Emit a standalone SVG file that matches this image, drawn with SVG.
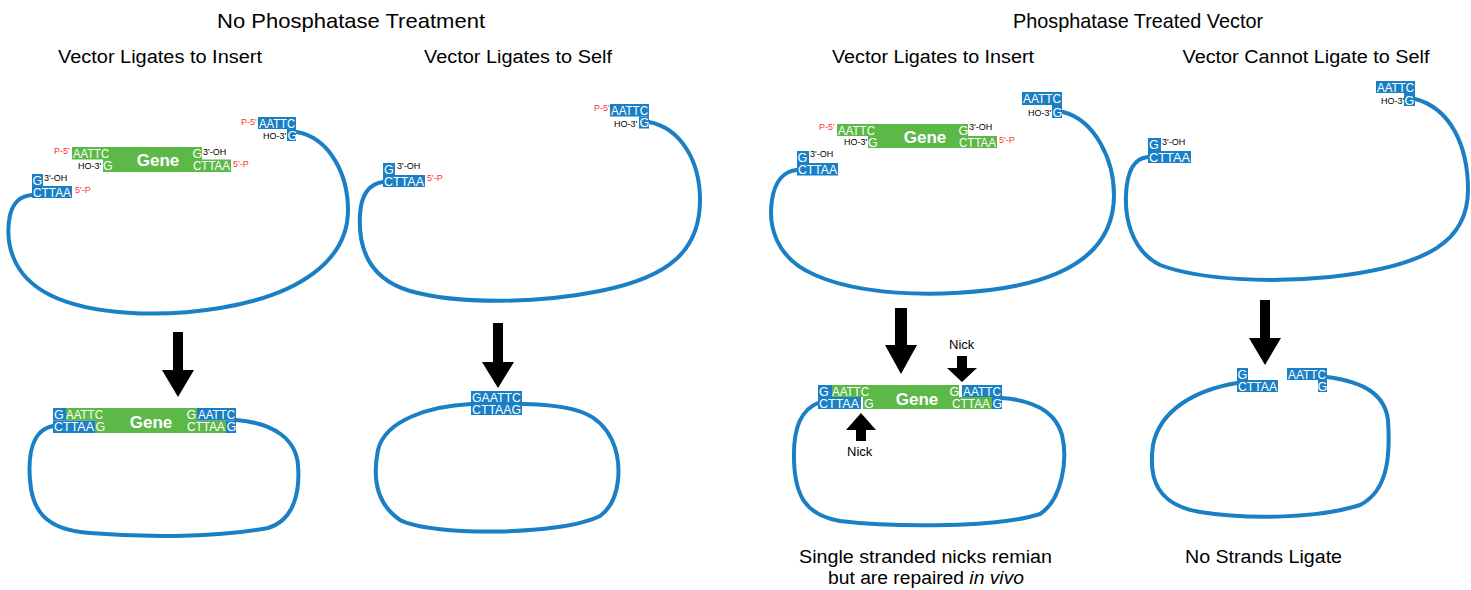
<svg xmlns="http://www.w3.org/2000/svg" width="1471" height="590" viewBox="0 0 1471 590">
<style>
.title{font-family:"Liberation Sans",Arial,sans-serif;font-size:21px;fill:#000;text-anchor:middle;}
.sub{font-family:"Liberation Sans",Arial,sans-serif;font-size:18px;fill:#000;text-anchor:middle;}
.cap{font-family:"Liberation Sans",Arial,sans-serif;font-size:18px;fill:#000;text-anchor:middle;}
.loop{fill:none;stroke:#1a7fc4;stroke-width:4;stroke-linecap:round;}
.b{fill:#1a7fc4;}
.g{fill:#5cb847;}
.s{font-family:"Liberation Sans",Arial,sans-serif;font-size:12.5px;fill:#fff;}
.gene{font-family:"Liberation Sans",Arial,sans-serif;font-size:17px;font-weight:bold;fill:#fff;text-anchor:middle;}
.r{font-family:"Liberation Sans",Arial,sans-serif;font-size:9px;fill:#ff3333;}
.k{font-family:"Liberation Sans",Arial,sans-serif;font-size:9px;fill:#000;}
.nick{font-family:"Liberation Sans",Arial,sans-serif;font-size:13px;fill:#000;}
.arr{fill:#000;}
</style>

<!-- Titles -->
<g id="titles">
<text class="title" x="351" y="28" textLength="268" lengthAdjust="spacingAndGlyphs">No Phosphatase Treatment</text>
<text class="title" x="1138" y="28" textLength="250" lengthAdjust="spacingAndGlyphs">Phosphatase Treated Vector</text>
<text class="sub" x="160" y="63" textLength="204" lengthAdjust="spacingAndGlyphs">Vector Ligates to Insert</text>
<text class="sub" x="518" y="63" textLength="188" lengthAdjust="spacingAndGlyphs">Vector Ligates to Self</text>
<text class="sub" x="933" y="63" textLength="202" lengthAdjust="spacingAndGlyphs">Vector Ligates to Insert</text>
<text class="sub" x="1306" y="63" textLength="247" lengthAdjust="spacingAndGlyphs">Vector Cannot Ligate to Self</text>
</g>

<!-- Panel 1 top: vector + insert -->
<g id="p1-vector">
<path class="loop" d="M297,132 C330,138 348,175 348,210 C348,260 300,295 220,308 C160,318 90,315 50,295 C10,275 5,240 10,215 C14,200 22,196 32,195"/>
<rect class="b" x="258" y="117" width="38" height="12"/>
<rect class="b" x="287" y="129" width="9" height="12"/>
<text class="s" x="259" y="127.5" textLength="36" lengthAdjust="spacingAndGlyphs">AATTC</text>
<text class="s" x="287.5" y="139.5">G</text>
<text class="r" x="241" y="125">P-5'</text>
<text class="k" x="263" y="139">HO-3'</text>
<rect class="b" x="32" y="174" width="11" height="12"/>
<rect class="b" x="32" y="186" width="40" height="12"/>
<text class="s" x="32.5" y="184.5">G</text>
<text class="s" x="33" y="196.5" textLength="38" lengthAdjust="spacingAndGlyphs">CTTAA</text>
<text class="k" x="44" y="181">3'-OH</text>
<text class="r" x="75" y="193">5'-P</text>
</g>
<g id="p1-insert">
<polygon class="g" points="72,147 202,147 202,159.5 231,159.5 231,172 103,172 103,159.5 72,159.5"/>
<text class="s" x="73" y="157.5" textLength="36" lengthAdjust="spacingAndGlyphs">AATTC</text>
<text class="s" x="103" y="170">G</text>
<text class="gene" x="158" y="166">Gene</text>
<text class="s" x="192.5" y="157.5">G</text>
<text class="s" x="193" y="170" textLength="37" lengthAdjust="spacingAndGlyphs">CTTAA</text>
<text class="r" x="54" y="154">P-5'</text>
<text class="k" x="78" y="168.5">HO-3'</text>
<text class="k" x="203" y="155">3'-OH</text>
<text class="r" x="233" y="166.5">5'-P</text>
</g>

<!-- Panel 1 bottom -->
<g id="p1-result">
<path class="loop" d="M53,426 C32,430 28,455 30,480 C32,510 45,530 90,533 C150,538 220,537 268,528 C295,520 300,490 298,465 C296,440 275,423 236,420"/>
<polygon class="g" points="66,408 197,408 197,420.5 226,420.5 226,433 95,433 95,420.5 66,420.5"/>
<rect class="b" x="53" y="408" width="13" height="12.5"/>
<rect class="b" x="53" y="420.5" width="42" height="12.5"/>
<rect class="b" x="197" y="408" width="39" height="12.5"/>
<rect class="b" x="226" y="420.5" width="10" height="12.5"/>
<text class="s" x="54" y="418.5">G</text>
<text class="s" x="66" y="418.5" textLength="37" lengthAdjust="spacingAndGlyphs">AATTC</text>
<text class="s" x="54" y="431" textLength="40" lengthAdjust="spacingAndGlyphs">CTTAA</text>
<text class="s" x="95.5" y="431">G</text>
<text class="gene" x="151" y="428">Gene</text>
<text class="s" x="186.5" y="418.5">G</text>
<text class="s" x="198" y="418.5" textLength="37" lengthAdjust="spacingAndGlyphs">AATTC</text>
<text class="s" x="187" y="431" textLength="38" lengthAdjust="spacingAndGlyphs">CTTAA</text>
<text class="s" x="226.5" y="431">G</text>
</g>

<!-- Panel 2 top -->
<g id="p2-vector">
<path class="loop" d="M649,122 C680,128 700,160 700,200 C700,250 670,277 600,291 C540,303 460,305 410,291 C370,279 358,250 360,215 C361,195 368,184 383,182"/>
<rect class="b" x="610" y="104" width="39" height="12.5"/>
<rect class="b" x="639" y="116.5" width="10" height="12"/>
<text class="s" x="611" y="114.5" textLength="37" lengthAdjust="spacingAndGlyphs">AATTC</text>
<text class="s" x="639.5" y="127">G</text>
<text class="r" x="594" y="111">P-5'</text>
<text class="k" x="614" y="127">HO-3'</text>
<rect class="b" x="383" y="163" width="12" height="12"/>
<rect class="b" x="383" y="175" width="42" height="12"/>
<text class="s" x="384" y="173.5">G</text>
<text class="s" x="384" y="185.5" textLength="40" lengthAdjust="spacingAndGlyphs">CTTAA</text>
<text class="k" x="397" y="169">3'-OH</text>
<text class="r" x="427" y="181">5'-P</text>
</g>

<!-- Panel 2 bottom -->
<g id="p2-result">
<path class="loop" d="M471,404 C430,406 385,420 378,450 C372,480 378,505 400,520 C430,536 560,536 600,516 C622,500 622,462 612,440 C600,415 580,405 522,404"/>
<rect class="b" x="471" y="391" width="51" height="24"/>
<text class="s" x="472" y="401.5" textLength="49" lengthAdjust="spacingAndGlyphs">GAATTC</text>
<text class="s" x="472" y="413.5" textLength="49" lengthAdjust="spacingAndGlyphs">CTTAAG</text>
</g>

<!-- Panel 3 top -->
<g id="p3-vector">
<path class="loop" d="M1063,112 C1095,120 1114,160 1114,195 C1114,250 1070,280 990,290 C930,297 860,295 815,275 C775,258 768,225 772,200 C775,180 785,171 797,170"/>
<rect class="b" x="1022" y="92" width="40" height="13"/>
<rect class="b" x="1052" y="105" width="10" height="13"/>
<text class="s" x="1023" y="103" textLength="38" lengthAdjust="spacingAndGlyphs">AATTC</text>
<text class="s" x="1052.5" y="116.5">G</text>
<text class="k" x="1028" y="116">HO-3'</text>
<rect class="b" x="797" y="151" width="12" height="12"/>
<rect class="b" x="797" y="163" width="41" height="12.5"/>
<text class="s" x="797.5" y="161.5">G</text>
<text class="s" x="798" y="174" textLength="39" lengthAdjust="spacingAndGlyphs">CTTAA</text>
<text class="k" x="810" y="157">3'-OH</text>
</g>
<g id="p3-insert">
<polygon class="g" points="837,124 968,124 968,136 997,136 997,148 868,148 868,136 837,136"/>
<text class="s" x="838" y="134.5" textLength="37" lengthAdjust="spacingAndGlyphs">AATTC</text>
<text class="s" x="868" y="146.5">G</text>
<text class="gene" x="925" y="143">Gene</text>
<text class="s" x="958.5" y="134.5">G</text>
<text class="s" x="959" y="146.5" textLength="37" lengthAdjust="spacingAndGlyphs">CTTAA</text>
<text class="r" x="819" y="130">P-5'</text>
<text class="k" x="844" y="145">HO-3'</text>
<text class="k" x="969" y="130">3'-OH</text>
<text class="r" x="999" y="143">5'-P</text>
</g>

<!-- Panel 3 bottom -->
<g id="p3-result">
<path class="loop" d="M818,403 C800,410 793,430 794,460 C795,495 805,515 840,521 C900,528 1000,527 1040,514 C1062,500 1068,460 1062,435 C1055,410 1030,400 1002,398"/>
<polygon class="g" points="832,385 959,385 959,397 992,397 992,409 863,409 863,397 832,397"/>
<rect class="b" x="818" y="385" width="14" height="12"/>
<rect class="b" x="818" y="397" width="43" height="12"/>
<rect class="b" x="962" y="385" width="40" height="12"/>
<rect class="b" x="992" y="397" width="10" height="12"/>
<text class="s" x="819" y="395.5">G</text>
<text class="s" x="832" y="395.5" textLength="37" lengthAdjust="spacingAndGlyphs">AATTC</text>
<text class="s" x="819" y="407.5" textLength="40" lengthAdjust="spacingAndGlyphs">CTTAA</text>
<text class="s" x="864" y="407.5">G</text>
<text class="gene" x="917" y="405">Gene</text>
<text class="s" x="949.5" y="395.5">G</text>
<text class="s" x="963" y="395.5" textLength="38" lengthAdjust="spacingAndGlyphs">AATTC</text>
<text class="s" x="952" y="407.5" textLength="38" lengthAdjust="spacingAndGlyphs">CTTAA</text>
<text class="s" x="992.5" y="407.5">G</text>
<text class="nick" x="949" y="349">Nick</text>
<text class="nick" x="847" y="456">Nick</text>
<text class="cap" x="925.5" y="563" textLength="253" lengthAdjust="spacingAndGlyphs">Single stranded nicks remian</text>
<text class="cap" x="926" y="584" textLength="196" lengthAdjust="spacingAndGlyphs">but are repaired <tspan font-style="italic">in vivo</tspan></text>
</g>

<!-- Panel 4 top -->
<g id="p4-vector">
<path class="loop" d="M1415,99 C1450,108 1468,145 1468,190 C1468,240 1430,266 1330,277 C1270,283 1200,280 1160,265 C1130,250 1125,215 1126,195 C1127,170 1135,158 1148,157"/>
<rect class="b" x="1376" y="81" width="39" height="12"/>
<rect class="b" x="1404" y="93" width="11" height="13"/>
<text class="s" x="1377" y="91.5" textLength="37" lengthAdjust="spacingAndGlyphs">AATTC</text>
<text class="s" x="1404.5" y="104.5">G</text>
<text class="k" x="1381" y="104">HO-3'</text>
<rect class="b" x="1148" y="138" width="13" height="13"/>
<rect class="b" x="1148" y="151" width="43" height="12"/>
<text class="s" x="1149" y="149">G</text>
<text class="s" x="1149" y="161.5" textLength="41" lengthAdjust="spacingAndGlyphs">CTTAA</text>
<text class="k" x="1162" y="145">3'-OH</text>
</g>

<!-- Panel 4 bottom -->
<g id="p4-result">
<path class="loop" d="M1237,383 C1195,390 1160,410 1153,445 C1148,480 1158,505 1200,512 C1250,520 1320,518 1360,505 C1390,490 1390,450 1388,420 C1385,395 1365,382 1327,377"/>
<rect class="b" x="1237" y="368" width="11" height="12"/>
<rect class="b" x="1237" y="380" width="41" height="12"/>
<rect class="b" x="1287" y="368" width="40" height="12"/>
<rect class="b" x="1318" y="380" width="9" height="12"/>
<text class="s" x="1237.5" y="378.5">G</text>
<text class="s" x="1238" y="390.5" textLength="39" lengthAdjust="spacingAndGlyphs">CTTAA</text>
<text class="s" x="1288" y="378.5" textLength="38" lengthAdjust="spacingAndGlyphs">AATTC</text>
<text class="s" x="1317.5" y="390.5">G</text>
<text class="cap" x="1263.5" y="563" textLength="157" lengthAdjust="spacingAndGlyphs">No Strands Ligate</text>
</g>

<!-- Connectors: block arrows -->
<g id="connectors">
<polygon class="arr" points="173,332 183,332 183,370 194,370 178,397 162,370 173,370"/>
<polygon class="arr" points="493,323 503,323 503,362 514,362 498,388 482,362 493,362"/>
<polygon class="arr" points="895,308 907,308 907,345 917,345 901,374 885,345 895,345"/>
<polygon class="arr" points="1260,300 1270,300 1270,338 1281,338 1265,365 1249,338 1260,338"/>
<polygon class="arr" points="957,356 967,356 967,368 977,368 962,382 947,368 957,368"/>
<polygon class="arr" points="856,441 866,441 866,430 876,430 861,413 846,430 856,430"/>
</g>
</svg>
